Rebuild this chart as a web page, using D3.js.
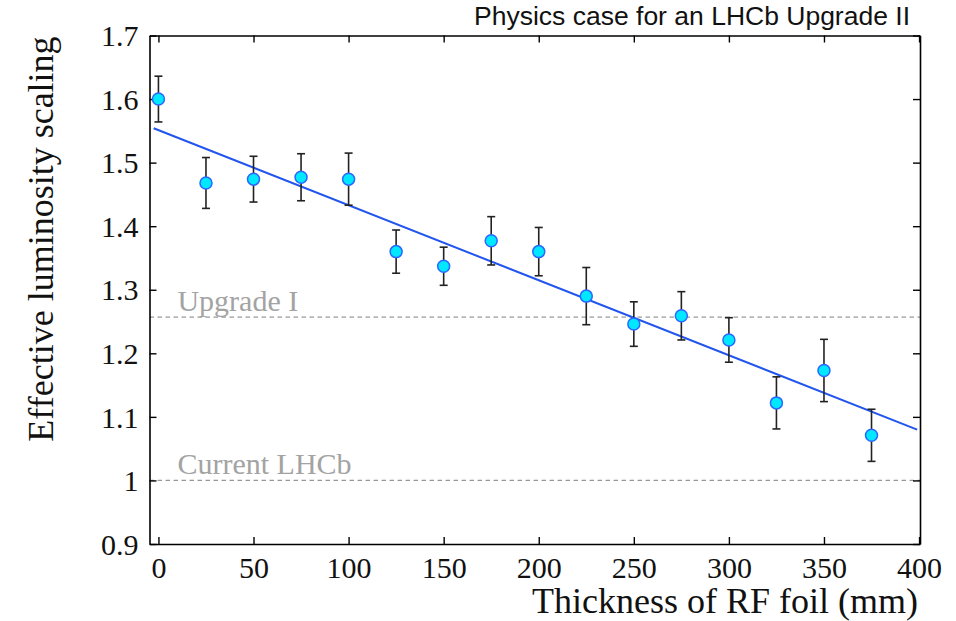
<!DOCTYPE html>
<html><head><meta charset="utf-8">
<script src="https://cdn.jsdelivr.net/npm/d3@7"></script>
<style>
html,body{margin:0;padding:0;background:#fff;}
svg{display:block;}
</style></head>
<body>
<svg id="chart" width="956" height="621"></svg>
<script>
const thickness = [0, 25, 50, 75, 100, 125, 150, 175, 200, 225, 250, 275, 300, 325, 350, 375];
const scaling   = [1.600, 1.468, 1.474, 1.477, 1.474, 1.360, 1.337, 1.377, 1.360, 1.290, 1.246, 1.259, 1.221, 1.122, 1.173, 1.071];
const errors    = [0.036, 0.040, 0.036, 0.037, 0.041, 0.034, 0.030, 0.038, 0.038, 0.045, 0.035, 0.038, 0.035, 0.041, 0.049, 0.041];
const fitX = [-2.5, 399];
const fitY = [1.554, 1.080];
const refValues = [1.257, 1.0];
const refLabels = ["Upgrade I", "Current LHCb"];
const xTicks = [0, 50, 100, 150, 200, 250, 300, 350, 400];
const yTicks = [0.9, 1.0, 1.1, 1.2, 1.3, 1.4, 1.5, 1.6, 1.7];
const xDomain = [-4.7, 400.5];
const yDomain = [0.9, 1.7];

const svg = d3.select("#chart");
const L = 149.5, R = 920, T = 35.5, B = 544;
const x = d3.scaleLinear().domain(xDomain).range([L, R]);
const y = d3.scaleLinear().domain(yDomain).range([B, T]);
const serif = "'Liberation Serif','Times New Roman',serif";
const tk = 7;

// reference dashed lines
const refG = svg.append("g");
refValues.forEach((v, i) => {
  refG.append("line").attr("x1", L).attr("x2", R).attr("y1", y(v)).attr("y2", y(v))
    .attr("stroke", "#999").attr("stroke-width", 1.2).attr("stroke-dasharray", "4.5,3.5");
  refG.append("text").attr("x", x(10)).attr("y", y(v) - 6.5)
    .attr("font-family", serif).attr("font-size", 30).attr("fill", "#a3a3a3").text(refLabels[i]);
});

// axes (inward ticks)
const fmtY = d => (d === 1 ? "1" : d3.format(".1f")(d));
const gBottom = svg.append("g").attr("transform", `translate(0,${B})`)
  .call(d3.axisBottom(x).tickValues(xTicks).tickSize(-tk).tickSizeOuter(0).tickPadding(13));
const gTop = svg.append("g").attr("transform", `translate(0,${T})`)
  .call(d3.axisTop(x).tickValues(xTicks).tickSize(-tk).tickSizeOuter(0).tickFormat(""));
const gLeft = svg.append("g").attr("transform", `translate(${L},0)`)
  .call(d3.axisLeft(y).tickValues(yTicks).tickSize(-tk).tickSizeOuter(0).tickPadding(11).tickFormat(fmtY));
const gRight = svg.append("g").attr("transform", `translate(${R},0)`)
  .call(d3.axisRight(y).tickValues(yTicks).tickSize(-tk).tickSizeOuter(0).tickFormat(""));
[gBottom, gTop, gLeft, gRight].forEach(g => {
  g.select(".domain").attr("stroke", "#000").attr("stroke-width", 1.6);
  g.selectAll(".tick line").attr("stroke", "#000").attr("stroke-width", 1.4);
  g.selectAll("text").attr("font-family", serif).attr("font-size", 30).attr("fill", "#111");
});
gBottom.selectAll(".tick text").attr("dy", "0.70em");
gLeft.selectAll(".tick text").attr("dy", "0.34em");

// fit line
svg.append("line").attr("x1", x(fitX[0])).attr("y1", y(fitY[0]))
  .attr("x2", x(fitX[1])).attr("y2", y(fitY[1]))
  .attr("stroke", "#2255ee").attr("stroke-width", 2);

// error bars
const eg = svg.append("g").attr("stroke", "#222").attr("stroke-width", 1.6);
thickness.forEach((t, i) => {
  const cx = x(t), y1 = y(scaling[i] + errors[i]), y0 = y(scaling[i] - errors[i]);
  eg.append("line").attr("x1", cx).attr("x2", cx).attr("y1", y1).attr("y2", y0);
  eg.append("line").attr("x1", cx - 4).attr("x2", cx + 4).attr("y1", y1).attr("y2", y1);
  eg.append("line").attr("x1", cx - 4).attr("x2", cx + 4).attr("y1", y0).attr("y2", y0);
});

// points
svg.append("g").selectAll("circle").data(thickness).join("circle")
  .attr("cx", d => x(d)).attr("cy", (d, i) => y(scaling[i])).attr("r", 6)
  .attr("fill", "#00e8ff").attr("stroke", "#2a66ff").attr("stroke-width", 1.5);

// titles
svg.append("text").attr("x", 918).attr("y", 613).attr("text-anchor", "end")
  .attr("font-family", serif).attr("font-size", 36).attr("fill", "#111").text("Thickness of RF foil (mm)");
svg.append("text").attr("transform", `translate(53,239) rotate(-90)`).attr("text-anchor", "middle")
  .attr("font-family", serif).attr("font-size", 36).attr("fill", "#111").text("Effective luminosity scaling");
svg.append("text").attr("x", 910).attr("y", 25).attr("text-anchor", "end")
  .attr("font-family", "'Liberation Sans',Arial,sans-serif").attr("font-size", 26.5).attr("fill", "#111")
  .text("Physics case for an LHCb Upgrade II");
</script>
</body></html>
